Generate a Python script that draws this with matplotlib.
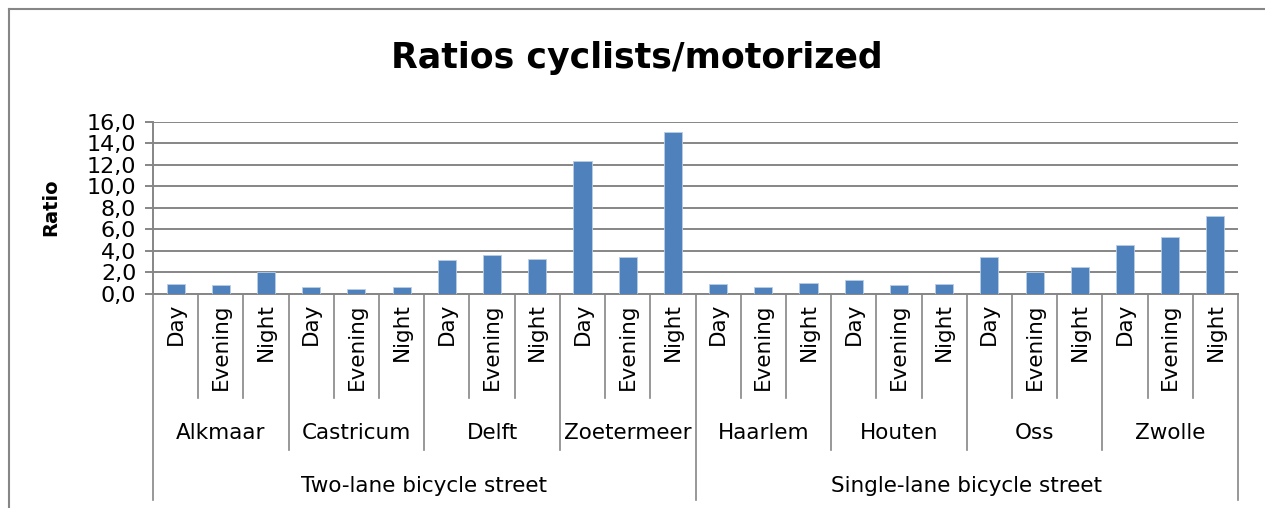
import matplotlib
matplotlib.use('Agg')
import matplotlib.pyplot as plt
import matplotlib.transforms as mtransforms
from matplotlib.lines import Line2D
from matplotlib.ticker import FuncFormatter

# данные графика
groups = ['Two-lane bicycle street', 'Single-lane bicycle street']
cities = ['Alkmaar', 'Castricum', 'Delft', 'Zoetermeer',
          'Haarlem', 'Houten', 'Oss', 'Zwolle']
periods = ['Day', 'Evening', 'Night']
ratios = [0.9, 0.8, 2.0,
          0.6, 0.4, 0.6,
          3.1, 3.6, 3.2,
          12.3, 3.4, 15.0,
          0.9, 0.6, 1.0,
          1.3, 0.75, 0.85,
          3.4, 2.0, 2.5,
          4.5, 5.25, 7.2]

W, H = 1265, 508
grey = '#868686'
fs = 15.5

fig = plt.figure(figsize=(W / 100, H / 100), dpi=100)
ax = fig.add_axes([153 / W, 1 - 293.5 / H, (1238 - 153) / W, (293.5 - 121.7) / H])

n = len(ratios)
xs = [i + 0.5 for i in range(n)]
ax.bar(xs, ratios, width=0.4, color='#4F81BD', edgecolor='#B9CDE5', linewidth=0.6, zorder=3)

ax.set_xlim(0, n)
ax.set_ylim(0, 16)
ax.set_yticks(range(0, 17, 2))
ax.yaxis.set_major_formatter(FuncFormatter(lambda v, p: f'{v:.1f}'.replace('.', ',')))
ax.tick_params(axis='y', length=6, width=1.4, color=grey, labelsize=fs + 0.5, pad=6)
ax.set_xticks([])
ax.grid(axis='y', color=grey, linewidth=1.4, zorder=0)
for s in ['top', 'right']:
    ax.spines[s].set_visible(False)
for s in ['left', 'bottom']:
    ax.spines[s].set_color(grey)
    ax.spines[s].set_linewidth(1.4)

ax.set_ylabel('Ratio', fontsize=14, fontweight='bold')
ax.yaxis.set_label_coords((60 - 153) / (1238 - 153), 0.5)

fig.text(637 / W, 1 - 58 / H, 'Ratios cyclists/motorized', fontsize=25,
         fontweight='bold', ha='center', va='center')

# многоуровневая подпись оси x
tr = mtransforms.blended_transform_factory(ax.transData, fig.transFigure)


def fy(py):
    return 1 - py / H


for i in range(n + 1):
    if i % 12 == 0:
        y_end = 500
    elif i % 3 == 0:
        y_end = 450
    else:
        y_end = 398
    ax.add_line(Line2D([i, i], [fy(293.5), fy(y_end)], transform=tr,
                       color=grey, linewidth=1.2, clip_on=False))

for i in range(n):
    ax.text(i + 0.5, fy(303), periods[i % 3], transform=tr, rotation=90,
            ha='center', va='top', fontsize=fs)

for j, c in enumerate(cities):
    ax.text(j * 3 + 1.5, fy(433), c, transform=tr, ha='center', va='center', fontsize=fs)

for k, g in enumerate(groups):
    ax.text(k * 12 + 6, fy(486), g, transform=tr, ha='center', va='center', fontsize=fs)

# рамка области диаграммы
fig.add_artist(Line2D([8.5 / W, 8.5 / W], [0, fy(9)], transform=fig.transFigure,
                      color=grey, linewidth=1.5))
fig.add_artist(Line2D([8.5 / W, 1], [fy(9), fy(9)], transform=fig.transFigure,
                      color=grey, linewidth=1.5))

fig.savefig('out.png', dpi=100)
